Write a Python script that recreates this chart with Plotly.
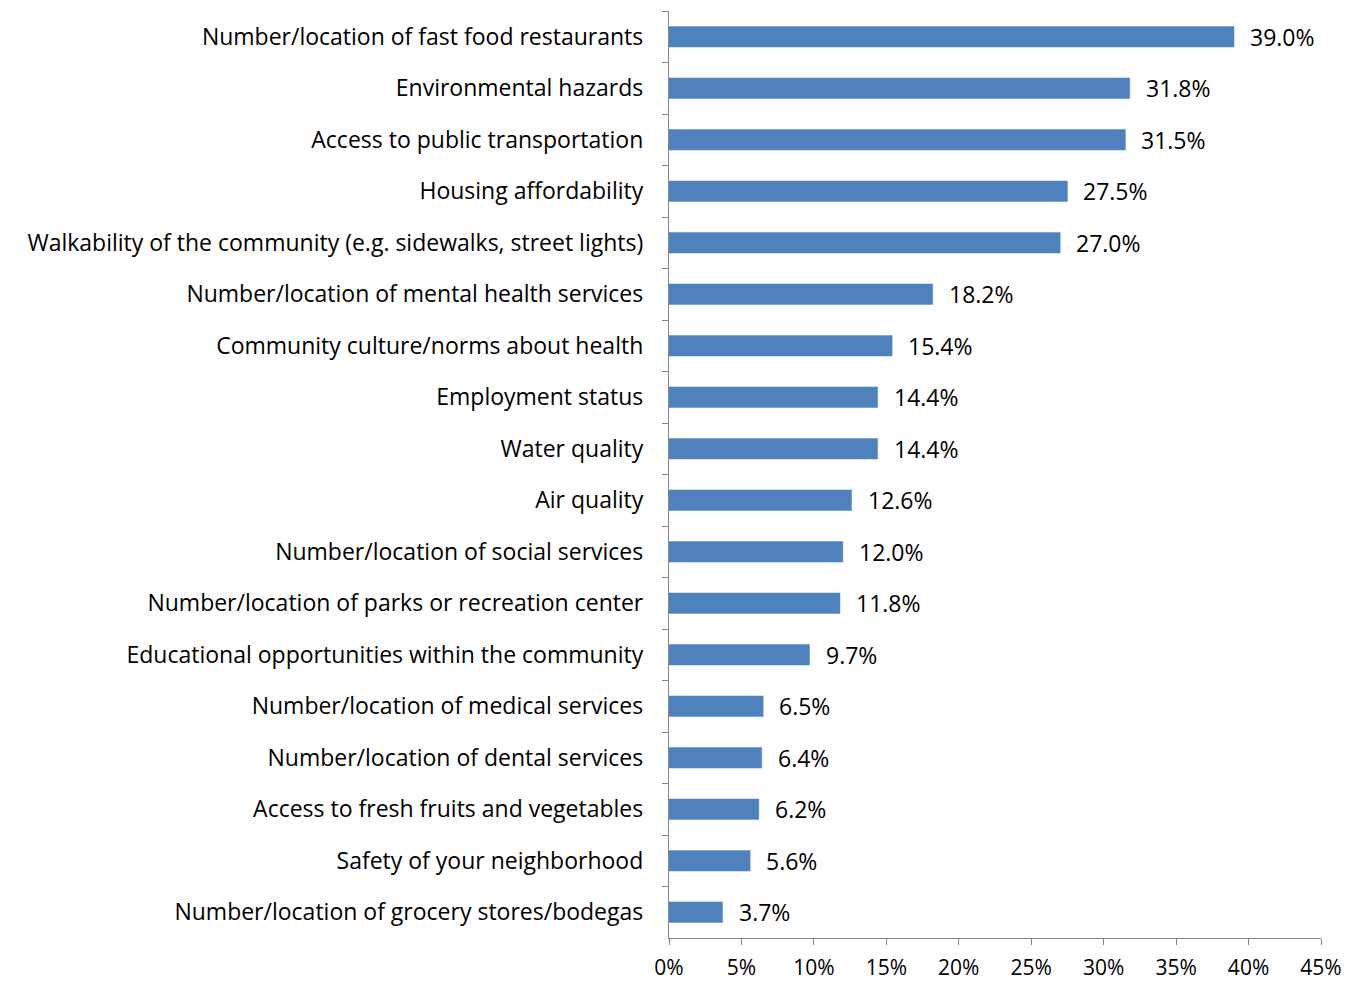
import plotly.graph_objects as go

# categories listed top to bottom as in the chart
categories = [
    "Number/location of fast food restaurants",
    "Environmental hazards",
    "Access to public transportation",
    "Housing affordability",
    "Walkability of the community (e.g. sidewalks, street lights)",
    "Number/location of mental health services",
    "Community culture/norms about health",
    "Employment status",
    "Water quality",
    "Air quality",
    "Number/location of social services",
    "Number/location of parks or recreation center",
    "Educational opportunities within the community",
    "Number/location of medical services",
    "Number/location of dental services",
    "Access to fresh fruits and vegetables",
    "Safety of your neighborhood",
    "Number/location of grocery stores/bodegas",
]
values = [39.0, 31.8, 31.5, 27.5, 27.0, 18.2, 15.4, 14.4, 14.4, 12.6,
          12.0, 11.8, 9.7, 6.5, 6.4, 6.2, 5.6, 3.7]
x_ticks = [0, 5, 10, 15, 20, 25, 30, 35, 40, 45]

font = "Open Sans"
fsize = 23
fracs = [v / 100 for v in values]

fig = go.Figure(go.Bar(
    y=categories,
    x=fracs,
    orientation="h",
    marker=dict(color="#4F81BD", line=dict(color="#5B8BC4", width=0.5)),
    width=0.4,
))

# data labels to the right of each bar
for c, v in zip(categories, values):
    fig.add_annotation(
        x=v / 100, y=c, text=f"{v:.1f}%", showarrow=False,
        xanchor="left", xshift=14,
        font=dict(family=font, size=fsize, color="#000000"),
    )

fig.update_xaxes(
    range=[0, 0.45],
    tickvals=[t / 100 for t in x_ticks],
    ticktext=[f"{t}%" for t in x_ticks],
    showline=True, linecolor="#868686", linewidth=1.3,
    ticks="outside", ticklen=6, tickcolor="#868686",
    showgrid=False, zeroline=False,
    ticklabelstandoff=5,
    automargin=False,
    tickfont=dict(family=font, size=21, color="#000000"),
)
fig.update_yaxes(
    categoryorder="array", categoryarray=categories,
    autorange="reversed",
    showline=True, linecolor="#868686", linewidth=1.3,
    ticks="outside", ticklen=6, tickcolor="#868686",
    tickson="boundaries",
    showgrid=False, zeroline=False,
    ticklabelstandoff=20,
    automargin=False,
    tickfont=dict(family=font, size=fsize, color="#000000"),
)
fig.update_layout(
    template="none",
    width=1354, height=975,
    margin=dict(l=661, r=41, t=3, b=45),
    plot_bgcolor="white", paper_bgcolor="white",
    showlegend=False,
)

fig.write_html("out.html")
